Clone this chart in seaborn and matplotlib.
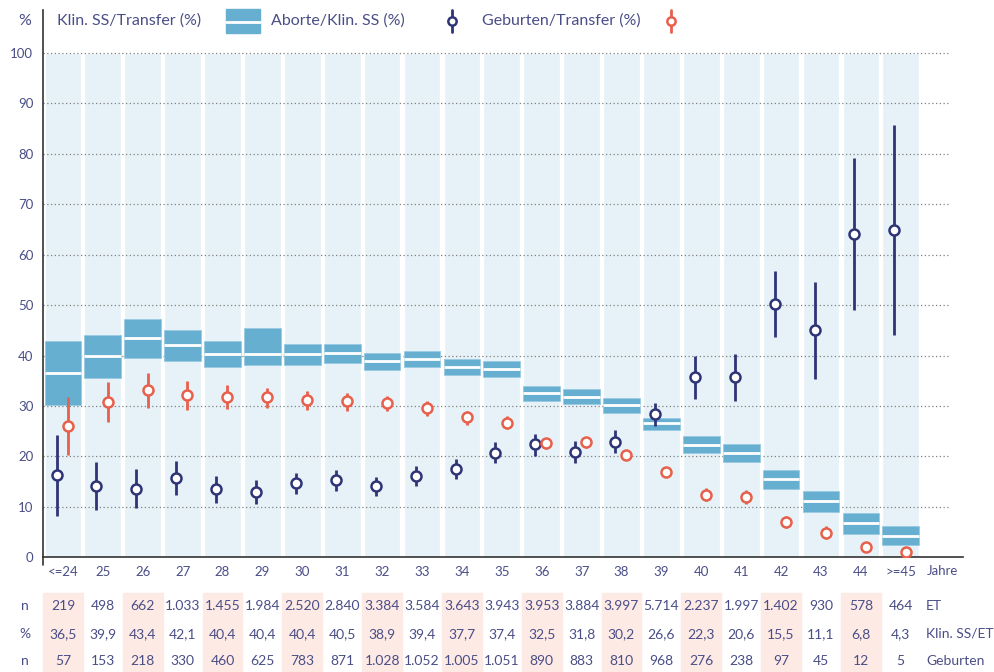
import matplotlib
matplotlib.use("Agg")
import matplotlib.pyplot as plt
import matplotlib.transforms as mtransforms
from matplotlib.lines import Line2D
from matplotlib.patches import Rectangle
import numpy as np
import seaborn as sns

# --- data ---
ages = ["<=24", "25", "26", "27", "28", "29", "30", "31", "32", "33", "34",
        "35", "36", "37", "38", "39", "40", "41", "42", "43", "44", ">=45"]

klin_ss = [36.5, 39.9, 43.4, 42.1, 40.4, 40.4, 40.4, 40.5, 38.9, 39.4, 37.7,
           37.4, 32.5, 31.8, 30.2, 26.6, 22.3, 20.6, 15.5, 11.1, 6.8, 4.3]
klin_lo = [30.1, 35.5, 39.5, 38.9, 37.7, 38.1, 38.2, 38.6, 37.2, 37.7, 36.1,
           35.8, 31.0, 30.4, 28.6, 25.3, 20.6, 18.8, 13.6, 8.9, 4.7, 2.4]
klin_hi = [42.8, 44.1, 47.2, 45.1, 42.8, 45.4, 42.2, 42.2, 40.5, 40.9, 39.3,
           38.9, 34.0, 33.4, 31.5, 27.7, 24.1, 22.4, 17.4, 13.1, 8.8, 6.2]

aborte = [16.3, 14.1, 13.6, 15.7, 13.5, 13.0, 14.7, 15.3, 14.1, 16.1, 17.5,
          20.7, 22.4, 20.9, 22.9, 28.4, 35.7, 35.8, 50.2, 45.0, 64.0, 64.9]
aborte_lo = [8.2, 9.3, 9.7, 12.3, 10.8, 10.6, 12.5, 13.2, 12.2, 14.1, 15.5,
             18.7, 20.0, 18.6, 20.6, 26.0, 31.4, 31.0, 43.6, 35.4, 49.0, 44.0]
aborte_hi = [24.2, 18.9, 17.5, 19.1, 16.2, 15.3, 16.8, 17.3, 15.9, 18.1, 19.5,
             22.8, 24.5, 23.0, 25.2, 30.6, 39.9, 40.3, 56.7, 54.6, 79.1, 85.8]

geburten = [26.0, 30.8, 33.1, 32.1, 31.7, 31.7, 31.1, 30.9, 30.5, 29.5, 27.8,
            26.7, 22.6, 22.8, 20.3, 17.0, 12.4, 12.0, 6.9, 4.9, 2.1, 1.1]
geburten_lo = [20.2, 26.8, 29.5, 29.3, 29.4, 29.6, 29.3, 29.0, 29.0, 28.0, 26.3,
               25.4, 21.4, 21.6, 19.2, 16.1, 11.2, 10.5, 5.8, 3.6, 1.3, 0.5]
geburten_hi = [31.7, 34.8, 36.6, 34.9, 34.1, 33.6, 32.9, 32.5, 32.0, 31.0, 29.1,
               28.0, 23.5, 23.9, 21.2, 17.9, 13.7, 13.3, 8.2, 6.2, 2.9, 1.7]

n_et = [219, 498, 662, 1033, 1455, 1984, 2520, 2840, 3384, 3584, 3643,
        3943, 3953, 3884, 3997, 5714, 2237, 1997, 1402, 930, 578, 464]
n_geburten = [57, 153, 218, 330, 460, 625, 783, 871, 1028, 1052, 1005,
              1051, 890, 883, 810, 968, 276, 238, 97, 45, 12, 5]

# --- colours ---
BAND = "#e6f2f7"
BOX = "#67afd1"
NAVY = "#2f3477"
RED = "#e8604c"
PINK = "#fdeae5"
TXT = "#4a4e87"

W, H = 994, 672


def fx(px):
    return px / W


def fy(py):
    return 1 - py / H


def de_int(v):
    return f"{v:,}".replace(",", ".")


def de_dec(v):
    return f"{v:.1f}".replace(".", ",")


sns.set_style("white")
plt.rcParams["font.family"] = ["Lato", "DejaVu Sans"]

fig = plt.figure(figsize=(W / 100, H / 100), dpi=100)
ax = fig.add_axes([fx(43), fy(557.3), fx(963 - 43), (557.3 - 10) / H])

x = np.arange(len(ages))

# background column bands
sns.barplot(x=ages, y=[100] * len(ages), color=BAND, width=0.92,
            saturation=1, ax=ax, zorder=1)

# dotted grid
ax.hlines(range(10, 101, 10), -0.5, 22.18, colors="#808080",
          linestyles=(0, (1, 2)), lw=0.9, zorder=2)

# Klin. SS/Transfer: CI box with white line at the rate
lo = np.array(klin_lo)
hi = np.array(klin_hi)
ax.bar(x, hi - lo, bottom=lo, width=0.92, color=BOX,
       edgecolor="#9acbe2", linewidth=0.6, zorder=3)
ax.hlines(klin_ss, x - 0.46, x + 0.46, colors="white", lw=2, zorder=4)

# Aborte/Klin. SS
ax.vlines(x - 0.16, aborte_lo, aborte_hi, colors=NAVY, lw=2, zorder=5)
sns.scatterplot(x=x - 0.16, y=aborte, marker="o", s=52, color="white",
                edgecolor=NAVY, linewidth=1.8, zorder=6, ax=ax)

# Geburten/Transfer
ax.vlines(x + 0.12, geburten_lo, geburten_hi, colors=RED, lw=2, zorder=5)
sns.scatterplot(x=x + 0.12, y=geburten, marker="o", s=52, color="white",
                edgecolor=RED, linewidth=1.8, zorder=6, ax=ax)

ax.set_xlim(-0.5, 22.56)
ax.set_ylim(0, 108.5)
ax.set_yticks(range(0, 101, 10))
ax.set_xticks(x)
ax.set_xticklabels(ages)
ax.set_xlabel("")
ax.set_ylabel("")
ax.tick_params(length=0, labelsize=9.5, colors=TXT)
ax.tick_params(axis="y", pad=7)
ax.tick_params(axis="x", pad=6)
sns.despine(ax=ax)
for side in ["left", "bottom"]:
    ax.spines[side].set_color("#333333")
    ax.spines[side].set_linewidth(1.2)
fig.add_artist(Line2D([fx(43), fx(43)], [fy(557), fy(565)],
                      color="#333333", lw=1.2))

bt = mtransforms.blended_transform_factory(ax.transData, fig.transFigure)
ax.text(22.05, fy(571), "Jahre", ha="center", va="center", fontsize=9.5,
        color=TXT, transform=bt)

# --- table under the chart ---
for i in range(0, len(ages), 2):
    ax.add_patch(Rectangle((i - 0.5, 0), 1.0, fy(593), transform=bt,
                           color=PINK, clip_on=False, zorder=0))

rows = [
    ("n", [de_int(v) for v in n_et], "ET", 606),
    ("%", [de_dec(v) for v in klin_ss], "Klin. SS/ET", 634),
    ("n", [de_int(v) for v in n_geburten], "Geburten", 661),
]
for left, vals, right, py in rows:
    fig.text(fx(25), fy(py), left, ha="center", va="center", fontsize=10,
             color=TXT)
    fig.text(fx(926), fy(py), right, ha="left", va="center", fontsize=10,
             color=TXT)
    for i, s in enumerate(vals):
        ax.text(i, fy(py), s, transform=bt, ha="center", va="center",
                fontsize=10, color=TXT)

# --- legend along the top ---
ly = 21
fig.text(fx(25), fy(ly), "%", ha="center", va="center", fontsize=11.5,
         color=TXT)
fig.text(fx(57), fy(ly), "Klin. SS/Transfer (%)", ha="left", va="center",
         fontsize=11.5, color=TXT)
fig.add_artist(Rectangle((fx(226), fy(33)), fx(34), 24 / H,
                         transform=fig.transFigure, color=BOX))
fig.add_artist(Line2D([fx(226), fx(260)], [fy(21.5), fy(21.5)],
                      color="white", lw=2))
fig.text(fx(271), fy(ly), "Aborte/Klin. SS (%)", ha="left", va="center",
         fontsize=11.5, color=TXT)
fig.add_artist(Line2D([fx(452), fx(452)], [fy(10), fy(32)], color=NAVY, lw=2))
fig.add_artist(Line2D([fx(452)], [fy(21)], marker="o", markersize=6,
                      markerfacecolor="white", markeredgecolor=NAVY,
                      markeredgewidth=1.8))
fig.text(fx(482), fy(ly), "Geburten/Transfer (%)", ha="left", va="center",
         fontsize=11.5, color=TXT)
fig.add_artist(Line2D([fx(671), fx(671)], [fy(10), fy(32)], color=RED, lw=2))
fig.add_artist(Line2D([fx(671)], [fy(21)], marker="o", markersize=6,
                      markerfacecolor="white", markeredgecolor=RED,
                      markeredgewidth=1.8))

fig.savefig("out.png", dpi=100)
